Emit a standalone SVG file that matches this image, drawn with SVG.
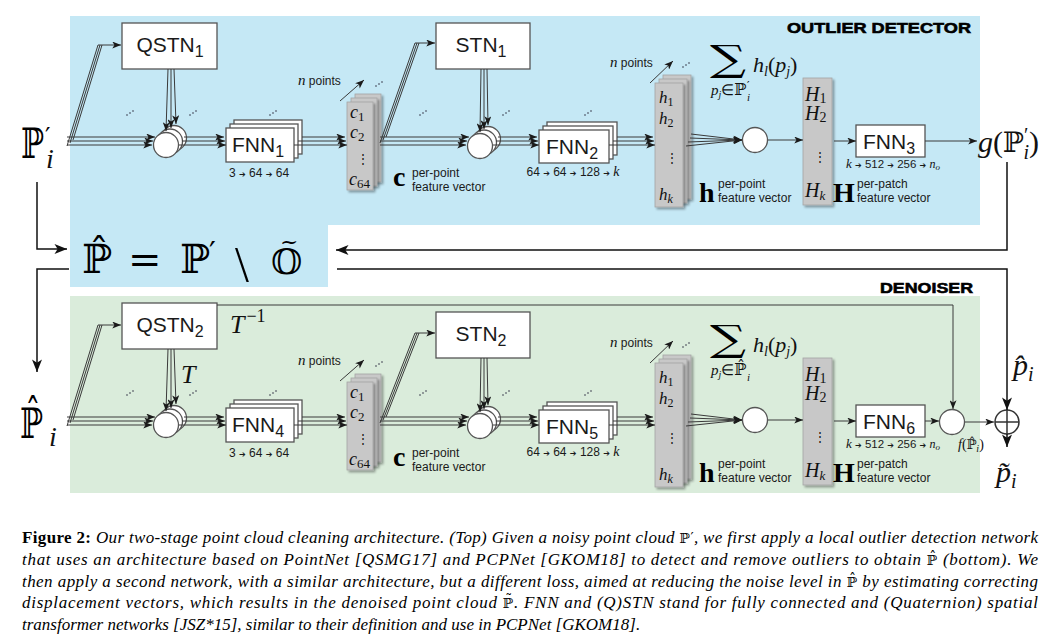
<svg xmlns="http://www.w3.org/2000/svg" width="1061" height="643" viewBox="0 0 1061 643">
<style>
.box{fill:#fff;stroke:#555;stroke-width:1.3}
.stk{fill:#c8c8c8;stroke:#a4a4a4;stroke-width:.8;filter:url(#sh)}
.crc{fill:#fff;stroke:#555;stroke-width:1.3}
.ln{fill:none;stroke:#3a3a3a;stroke-width:1}
.blk{fill:none;stroke:#111;stroke-width:1.5}
.a{marker-end:url(#ah)}
.ab{marker-end:url(#ahb)}
.sans{font-family:'Liberation Sans',Arial,sans-serif;fill:#1a1a1a}
.m{font-family:'Liberation Serif','Times New Roman',serif;font-style:italic;fill:#111}
.up{font-style:normal}
.bb{font-family:'DejaVu Serif','DejaVu Sans',serif;font-style:normal}
.ar{font-family:'DejaVu Sans',sans-serif;font-size:8px}
.nm{font-size:21px}
.sub{font-size:16px}
.t12{font-size:12px}
.ttl{font-family:'Liberation Sans',Arial,sans-serif;font-weight:bold;font-size:15.5px;fill:#000;stroke:#000;stroke-width:.6}
.cap{font-family:'Liberation Serif','Times New Roman',serif;font-size:17px;font-style:italic;fill:#000}
.dt{fill:#334}
</style>
<defs>
<marker id="ah" viewBox="0 0 10 8" refX="10" refY="4" markerWidth="10" markerHeight="7" markerUnits="userSpaceOnUse" orient="auto"><path d="M0,0 L10,4 L0,8 L2.5,4 z" fill="#1a1a1a"/></marker>
<marker id="ahb" viewBox="0 0 10 8" refX="10" refY="4" markerWidth="13" markerHeight="10" markerUnits="userSpaceOnUse" orient="auto"><path d="M0,0 L10,4 L0,8 L2.5,4 z" fill="#111"/></marker>
<filter id="sh" x="-20%" y="-10%" width="150%" height="130%"><feDropShadow dx="2" dy="2" stdDeviation="1.2" flood-color="#000" flood-opacity=".35"/></filter>
<g id="dots" class="dt"><circle cx="0" cy="4" r=".8"/><circle cx="3" cy="2" r=".8"/><circle cx="6" cy="0" r=".8"/></g>
</defs>
<rect width="1061" height="643" fill="#fff"/>
<g id="panels">
<path d="M70,16 H980 V225 H328 V287 H70 Z" fill="#c5e8f5"/>
<rect x="70" y="296" width="910" height="197" fill="#daecdb"/>
</g>

<!-- ===== TOP: OUTLIER DETECTOR ===== -->
<g id="title-od"><text class="ttl" x="971" y="33" text-anchor="end" textLength="184" lengthAdjust="spacingAndGlyphs">OUTLIER DETECTOR</text></g>
<g id="in-top"><text class="bb" x="21" y="158" font-size="42" textLength="23" lengthAdjust="spacingAndGlyphs">ℙ</text><text class="bb" x="45" y="145" font-size="24">′</text><text class="m" x="46" y="168" font-size="28">i</text></g>
<g id="qstn1"><rect class="box" x="122" y="23" width="95" height="46"/><text class="sans nm" x="170" y="52" text-anchor="middle">QSTN<tspan class="sub" dy="5">1</tspan></text></g>
<g id="tr1"><circle class="crc" cx="174" cy="138" r="12.5"/><circle class="crc" cx="170" cy="141.5" r="12.5"/><circle class="crc" cx="166" cy="145" r="12.5"/></g>
<g id="fnn1"><rect class="box" x="234" y="120" width="68" height="34"/><rect class="box" x="230" y="124" width="68" height="34"/><rect class="box" x="226" y="128" width="68" height="34"/><text class="sans nm" x="258" y="152" text-anchor="middle">FNN<tspan class="sub" dy="5">1</tspan></text><text class="sans t12" x="259" y="177" text-anchor="middle">3 <tspan class="ar">➔</tspan> 64 <tspan class="ar">➔</tspan> 64</text></g>
<g id="cstack1"><rect class="stk" x="355" y="94" width="26" height="88"/><rect class="stk" x="351" y="98" width="26" height="88"/><rect class="stk" x="347" y="102" width="26" height="88"/>
<text class="m" font-size="18"><tspan x="350" y="118">c</tspan><tspan class="up" font-size="13" dy="3">1</tspan><tspan x="350" y="138">c</tspan><tspan class="up" font-size="13" dy="3">2</tspan><tspan class="up" x="357" y="163" font-size="12">⋮</tspan><tspan x="349" y="185">c</tspan><tspan class="up" font-size="13" dy="3">64</tspan></text>
<text x="393" y="186" font-family="'Liberation Serif',serif" font-weight="bold" font-size="28">c</text><text class="sans t12"><tspan x="412" y="177">per-point</tspan><tspan x="412" y="191">feature vector</tspan></text></g>
<g id="np1"><text class="t12" x="298" y="85"><tspan class="m" font-size="15">n</tspan><tspan class="sans"> points</tspan></text></g>
<g id="stn1"><rect class="box" x="436" y="23" width="94" height="46"/><text class="sans nm" x="481" y="52" text-anchor="middle">STN<tspan class="sub" dy="5">1</tspan></text></g>
<g id="tr2"><circle class="crc" cx="488" cy="139" r="12.5"/><circle class="crc" cx="484" cy="142.5" r="12.5"/><circle class="crc" cx="480" cy="146" r="12.5"/></g>
<g id="fnn2"><rect class="box" x="547" y="122" width="70" height="33"/><rect class="box" x="543" y="126" width="70" height="33"/><rect class="box" x="539" y="130" width="70" height="33"/><text class="sans nm" x="572" y="154" text-anchor="middle">FNN<tspan class="sub" dy="5">2</tspan></text><text class="sans t12" x="573" y="176" text-anchor="middle">64 <tspan class="ar">➔</tspan> 64 <tspan class="ar">➔</tspan> 128 <tspan class="ar">➔</tspan> <tspan class="m" font-size="14">k</tspan></text></g>
<g id="np2"><text class="t12" x="610" y="67"><tspan class="m" font-size="15">n</tspan><tspan class="sans"> points</tspan></text></g>
<g id="hstack1"><rect class="stk" x="663" y="75" width="28" height="124"/><rect class="stk" x="659" y="79" width="28" height="124"/><rect class="stk" x="655" y="83" width="28" height="124"/>
<text class="m" font-size="17"><tspan x="659" y="103">h</tspan><tspan class="up" font-size="12" dy="3">1</tspan><tspan x="659" y="124">h</tspan><tspan class="up" font-size="12" dy="3">2</tspan><tspan class="up" x="666" y="162" font-size="12">⋮</tspan><tspan x="659" y="200">h</tspan><tspan font-size="12" dy="3">k</tspan></text>
<text x="699" y="202" font-family="'Liberation Serif',serif" font-weight="bold" font-size="28">h</text><text class="sans t12"><tspan x="718" y="188">per-point</tspan><tspan x="718" y="202">feature vector</tspan></text></g>
<g id="sum1"><text class="bb" x="710" y="71" font-size="36" textLength="36" lengthAdjust="spacingAndGlyphs">∑</text><text class="m" x="753" y="72" font-size="22">h<tspan font-size="14" dy="4">l</tspan><tspan class="up" dy="-4">(</tspan>p<tspan font-size="14" dy="4">j</tspan><tspan class="up" dy="-4">)</tspan></text>
<text class="m" x="711" y="95" font-size="15">p<tspan font-size="10" dy="3">j</tspan><tspan class="up" dy="-3">∈</tspan><tspan class="bb" font-size="16">ℙ</tspan></text><text class="bb" x="747" y="89" font-size="11">′</text><text class="m" x="747" y="101" font-size="11">i</text></g>
<g id="pool1"><circle class="crc" cx="755" cy="140" r="12.5"/></g>
<g id="Hstack1"><rect class="stk" x="803" y="78" width="29" height="127"/>
<text class="m" font-size="20"><tspan x="805" y="101">H</tspan><tspan class="up" font-size="14" dy="2">1</tspan><tspan x="805" y="120">H</tspan><tspan class="up" font-size="14" dy="2">2</tspan><tspan class="up" x="814" y="161" font-size="12">⋮</tspan><tspan x="805" y="197">H</tspan><tspan font-size="13" dy="3">k</tspan></text>
<text x="833" y="202" font-family="'Liberation Serif',serif" font-weight="bold" font-size="28">H</text><text class="sans t12"><tspan x="857" y="188">per-patch</tspan><tspan x="857" y="202">feature vector</tspan></text></g>
<g id="fnn3"><rect class="box" x="856" y="125" width="69" height="32"/><text class="sans nm" x="889" y="149" text-anchor="middle">FNN<tspan class="sub" dy="5">3</tspan></text><text class="sans" font-size="11.5" x="893" y="168" text-anchor="middle"><tspan class="m" font-size="13">k</tspan> <tspan class="ar">➔</tspan> 512 <tspan class="ar">➔</tspan> 256 <tspan class="ar">➔</tspan> <tspan class="m" font-size="12">n</tspan><tspan class="m" font-size="9" dy="2">o</tspan></text></g>
<g id="gout"><text class="m" x="978" y="152" font-size="30">g<tspan class="up">(</tspan><tspan class="bb" font-size="28">ℙ</tspan><tspan class="up" font-size="20" dy="-10">′</tspan><tspan font-size="20" dx="-5" dy="17">i</tspan><tspan class="up" dy="-7">)</tspan></text></g>

<!-- ===== MIDDLE ===== -->
<g id="setdiff"><text class="bb" font-size="40"><tspan x="82" y="273">ℙ̂</tspan><tspan x="128" y="273">=</tspan><tspan x="180" y="273">ℙ</tspan><tspan x="209" y="263" font-size="30">′</tspan><tspan font-family="'Liberation Serif',serif" x="235" y="281" font-size="50">\</tspan><tspan x="271" y="274" font-size="36">𝕆</tspan></text><text class="bb" x="280" y="249" font-size="22">~</text></g>

<!-- ===== BOTTOM: DENOISER ===== -->
<g id="title-dn"><text class="ttl" x="973" y="293" text-anchor="end" textLength="93" lengthAdjust="spacingAndGlyphs">DENOISER</text></g>
<g id="in-bot"><text class="bb" x="20" y="438" font-size="42" textLength="23" lengthAdjust="spacingAndGlyphs">ℙ̂</text><text class="m" x="49" y="446" font-size="28">i</text></g>
<g id="qstn2"><rect class="box" x="122" y="303" width="95" height="46"/><text class="sans nm" x="170" y="332" text-anchor="middle">QSTN<tspan class="sub" dy="5">2</tspan></text>
<text class="m" x="230" y="333" font-size="26">T<tspan class="up" font-size="18" dx="2" dy="-11">−1</tspan></text><text class="m" x="181" y="383" font-size="26">T</text></g>
<g id="tr3" transform="translate(0,280)"><circle class="crc" cx="174" cy="138" r="12.5"/><circle class="crc" cx="170" cy="141.5" r="12.5"/><circle class="crc" cx="166" cy="145" r="12.5"/></g>
<g id="fnn4" transform="translate(0,280)"><rect class="box" x="234" y="120" width="68" height="34"/><rect class="box" x="230" y="124" width="68" height="34"/><rect class="box" x="226" y="128" width="68" height="34"/><text class="sans nm" x="258" y="152" text-anchor="middle">FNN<tspan class="sub" dy="5">4</tspan></text><text class="sans t12" x="259" y="177" text-anchor="middle">3 <tspan class="ar">➔</tspan> 64 <tspan class="ar">➔</tspan> 64</text></g>
<g id="cstack2" transform="translate(0,280)"><rect class="stk" x="355" y="94" width="26" height="88"/><rect class="stk" x="351" y="98" width="26" height="88"/><rect class="stk" x="347" y="102" width="26" height="88"/>
<text class="m" font-size="18"><tspan x="350" y="118">c</tspan><tspan class="up" font-size="13" dy="3">1</tspan><tspan x="350" y="138">c</tspan><tspan class="up" font-size="13" dy="3">2</tspan><tspan class="up" x="357" y="163" font-size="12">⋮</tspan><tspan x="349" y="185">c</tspan><tspan class="up" font-size="13" dy="3">64</tspan></text>
<text x="393" y="186" font-family="'Liberation Serif',serif" font-weight="bold" font-size="28">c</text><text class="sans t12"><tspan x="412" y="177">per-point</tspan><tspan x="412" y="191">feature vector</tspan></text></g>
<g id="np3"><text class="t12" x="298" y="365"><tspan class="m" font-size="15">n</tspan><tspan class="sans"> points</tspan></text></g>
<g id="stn2"><rect class="box" x="436" y="312" width="94" height="46"/><text class="sans nm" x="481" y="341" text-anchor="middle">STN<tspan class="sub" dy="5">2</tspan></text></g>
<g id="tr4" transform="translate(0,280)"><circle class="crc" cx="488" cy="139" r="12.5"/><circle class="crc" cx="484" cy="142.5" r="12.5"/><circle class="crc" cx="480" cy="146" r="12.5"/></g>
<g id="fnn5" transform="translate(0,280)"><rect class="box" x="547" y="122" width="70" height="33"/><rect class="box" x="543" y="126" width="70" height="33"/><rect class="box" x="539" y="130" width="70" height="33"/><text class="sans nm" x="572" y="154" text-anchor="middle">FNN<tspan class="sub" dy="5">5</tspan></text><text class="sans t12" x="573" y="176" text-anchor="middle">64 <tspan class="ar">➔</tspan> 64 <tspan class="ar">➔</tspan> 128 <tspan class="ar">➔</tspan> <tspan class="m" font-size="14">k</tspan></text></g>
<g id="np4"><text class="t12" x="610" y="347"><tspan class="m" font-size="15">n</tspan><tspan class="sans"> points</tspan></text></g>
<g id="hstack2" transform="translate(0,280)"><rect class="stk" x="663" y="75" width="28" height="124"/><rect class="stk" x="659" y="79" width="28" height="124"/><rect class="stk" x="655" y="83" width="28" height="124"/>
<text class="m" font-size="17"><tspan x="659" y="103">h</tspan><tspan class="up" font-size="12" dy="3">1</tspan><tspan x="659" y="124">h</tspan><tspan class="up" font-size="12" dy="3">2</tspan><tspan class="up" x="666" y="162" font-size="12">⋮</tspan><tspan x="659" y="200">h</tspan><tspan font-size="12" dy="3">k</tspan></text>
<text x="699" y="202" font-family="'Liberation Serif',serif" font-weight="bold" font-size="28">h</text><text class="sans t12"><tspan x="718" y="188">per-point</tspan><tspan x="718" y="202">feature vector</tspan></text></g>
<g id="sum2"><text class="bb" x="710" y="351" font-size="36" textLength="36" lengthAdjust="spacingAndGlyphs">∑</text><text class="m" x="753" y="352" font-size="22">h<tspan font-size="14" dy="4">l</tspan><tspan class="up" dy="-4">(</tspan>p<tspan font-size="14" dy="4">j</tspan><tspan class="up" dy="-4">)</tspan></text>
<text class="m" x="711" y="375" font-size="15">p<tspan font-size="10" dy="3">j</tspan><tspan class="up" dy="-3">∈</tspan><tspan class="bb" font-size="16">ℙ̂</tspan></text><text class="m" x="747" y="381" font-size="11">i</text></g>
<g id="pool2"><circle class="crc" cx="755" cy="420" r="12.5"/></g>
<g id="Hstack2" transform="translate(0,280)"><rect class="stk" x="803" y="78" width="29" height="127"/>
<text class="m" font-size="20"><tspan x="805" y="101">H</tspan><tspan class="up" font-size="14" dy="2">1</tspan><tspan x="805" y="120">H</tspan><tspan class="up" font-size="14" dy="2">2</tspan><tspan class="up" x="814" y="161" font-size="12">⋮</tspan><tspan x="805" y="197">H</tspan><tspan font-size="13" dy="3">k</tspan></text>
<text x="833" y="202" font-family="'Liberation Serif',serif" font-weight="bold" font-size="28">H</text><text class="sans t12"><tspan x="857" y="188">per-patch</tspan><tspan x="857" y="202">feature vector</tspan></text></g>
<g id="fnn6" transform="translate(0,280)"><rect class="box" x="856" y="125" width="69" height="32"/><text class="sans nm" x="889" y="149" text-anchor="middle">FNN<tspan class="sub" dy="5">6</tspan></text><text class="sans" font-size="11.5" x="893" y="168" text-anchor="middle"><tspan class="m" font-size="13">k</tspan> <tspan class="ar">➔</tspan> 512 <tspan class="ar">➔</tspan> 256 <tspan class="ar">➔</tspan> <tspan class="m" font-size="12">n</tspan><tspan class="m" font-size="9" dy="2">o</tspan></text></g>
<g id="untr"><circle class="crc" cx="952" cy="422" r="12.5"/><text class="m" x="958" y="449" font-size="14">f<tspan class="up">(</tspan><tspan class="bb" font-size="13">ℙ̂</tspan><tspan font-size="10" dy="3">i</tspan><tspan class="up" dy="-3">)</tspan></text></g>
<g id="plus"><circle cx="1007" cy="422" r="12" fill="#fff" stroke="#333" stroke-width="1.5"/><path d="M995,422 H1019 M1007,410 V434" stroke="#333" stroke-width="1.5"/></g>
<g id="phat"><text class="m" x="1013" y="375" font-size="30">p̂<tspan font-size="20" dy="6">i</tspan></text></g>
<g id="ptilde"><text class="m" x="996" y="482" font-size="30">p̃<tspan font-size="20" dy="6">i</tspan></text></g>

<!-- ===== CONNECTORS ===== -->
<g id="connectors">
<g class="ln a">
<path d="M67,137 H155"/><path d="M67,141 H153"/><path d="M67,145 H152"/>
<path d="M168,69 L166,131"/><path d="M171,69 L171,128"/><path d="M174,69 L176,124"/>
<path d="M184,137 H224"/><path d="M182,141 H225"/><path d="M179,145 H226"/>
<path d="M302,137 H345"/><path d="M298,141 H346"/><path d="M294,145 H347"/>
<path d="M340,101 L364,80"/>
<path d="M380,137 H469"/><path d="M380,141 H467"/><path d="M380,145 H466"/>
<path d="M481,69 L480,132"/><path d="M484,69 L484,129"/><path d="M487,69 L488,125"/>
<path d="M498,137 H537"/><path d="M496,141 H538"/><path d="M493,145 H539"/>
<path d="M617,137 H653"/><path d="M613,141 H654"/><path d="M609,145 H655"/>
<path d="M650,83 L673,61"/>
<path d="M691,134 L742,140"/><path d="M690,138 L742,140"/><path d="M688,142 L742,140"/><path d="M686,146 L742,140"/>
<path d="M768,140 H803"/><path d="M834,141 H856"/><path d="M925,141 H977"/>
<path d="M67,146 L98,45 H121"/><path d="M380,143 L415,43 H435"/>
<path d="M67,417 H155"/><path d="M67,421 H153"/><path d="M67,425 H152"/>
<path d="M168,349 L166,411"/><path d="M171,349 L171,408"/><path d="M174,349 L176,404"/>
<path d="M184,417 H224"/><path d="M182,421 H225"/><path d="M179,425 H226"/>
<path d="M302,417 H345"/><path d="M298,421 H346"/><path d="M294,425 H347"/>
<path d="M340,381 L364,360"/>
<path d="M380,417 H469"/><path d="M380,421 H467"/><path d="M380,425 H466"/>
<path d="M481,358 L480,412"/><path d="M484,358 L484,409"/><path d="M487,358 L488,405"/>
<path d="M498,417 H537"/><path d="M496,421 H538"/><path d="M493,425 H539"/>
<path d="M617,417 H653"/><path d="M613,421 H654"/><path d="M609,425 H655"/>
<path d="M650,363 L673,341"/>
<path d="M691,414 L742,420"/><path d="M690,418 L742,420"/><path d="M688,422 L742,420"/><path d="M686,426 L742,420"/>
<path d="M768,420 H803"/><path d="M834,421 H856"/><path d="M925,421 H939"/><path d="M965,422 H994"/>
<path d="M67,426 L98,325 H121"/><path d="M380,423 L415,333 H435"/>
<path d="M217,305 H953 V409"/>
</g>
<g class="ln">
<path d="M70,143 L100,45"/><path d="M73,140 L102,45"/>
<path d="M383,140 L417,43"/><path d="M386,137 L419,43"/>
<path d="M70,423 L100,325"/><path d="M73,420 L102,325"/>
<path d="M383,420 L417,333"/><path d="M386,417 L419,333"/>
</g>
<g class="blk ab">
<path d="M1007,162 V250 H336"/>
<path d="M37,182 V249 H67"/>
<path d="M69,269 H37 V372"/>
<path d="M337,269 H1007 V410"/>
<path d="M1007,434 V447"/>
</g>
</g>
<g id="dotmarks">
<use href="#dots" x="127" y="111"/><use href="#dots" x="190" y="111"/><use href="#dots" x="270" y="111"/><use href="#dots" x="376" y="82"/><use href="#dots" x="420" y="111"/><use href="#dots" x="503" y="111"/><use href="#dots" x="585" y="111"/><use href="#dots" x="683" y="63"/>
<use href="#dots" x="127" y="391"/><use href="#dots" x="190" y="391"/><use href="#dots" x="270" y="391"/><use href="#dots" x="376" y="362"/><use href="#dots" x="420" y="391"/><use href="#dots" x="503" y="391"/><use href="#dots" x="585" y="391"/><use href="#dots" x="683" y="343"/>
</g>

<!-- ===== CAPTION ===== -->
<g id="caption">
<text class="cap" x="22" y="543" textLength="1016" lengthAdjust="spacing"><tspan font-style="normal" font-weight="bold">Figure 2:</tspan> Our two-stage point cloud cleaning architecture. (Top) Given a noisy point cloud <tspan class="bb" font-size="14">ℙ′</tspan>, we first apply a local outlier detection network</text>
<text class="cap" x="22" y="565" textLength="1016" lengthAdjust="spacing">that uses an architecture based on PointNet [QSMG17] and PCPNet [GKOM18] to detect and remove outliers to obtain <tspan class="bb" font-size="14">ℙ̂</tspan> (bottom). We</text>
<text class="cap" x="22" y="587" textLength="1016" lengthAdjust="spacing">then apply a second network, with a similar architecture, but a different loss, aimed at reducing the noise level in <tspan class="bb" font-size="14">ℙ̂</tspan> by estimating correcting</text>
<text class="cap" x="22" y="608" textLength="1016" lengthAdjust="spacing">displacement vectors, which results in the denoised point cloud <tspan class="bb" font-size="14">ℙ̃</tspan>. FNN and (Q)STN stand for fully connected and (Quaternion) spatial</text>
<text class="cap" x="22" y="630">transformer networks [JSZ*15], similar to their definition and use in PCPNet [GKOM18].</text>
</g>
</svg>
